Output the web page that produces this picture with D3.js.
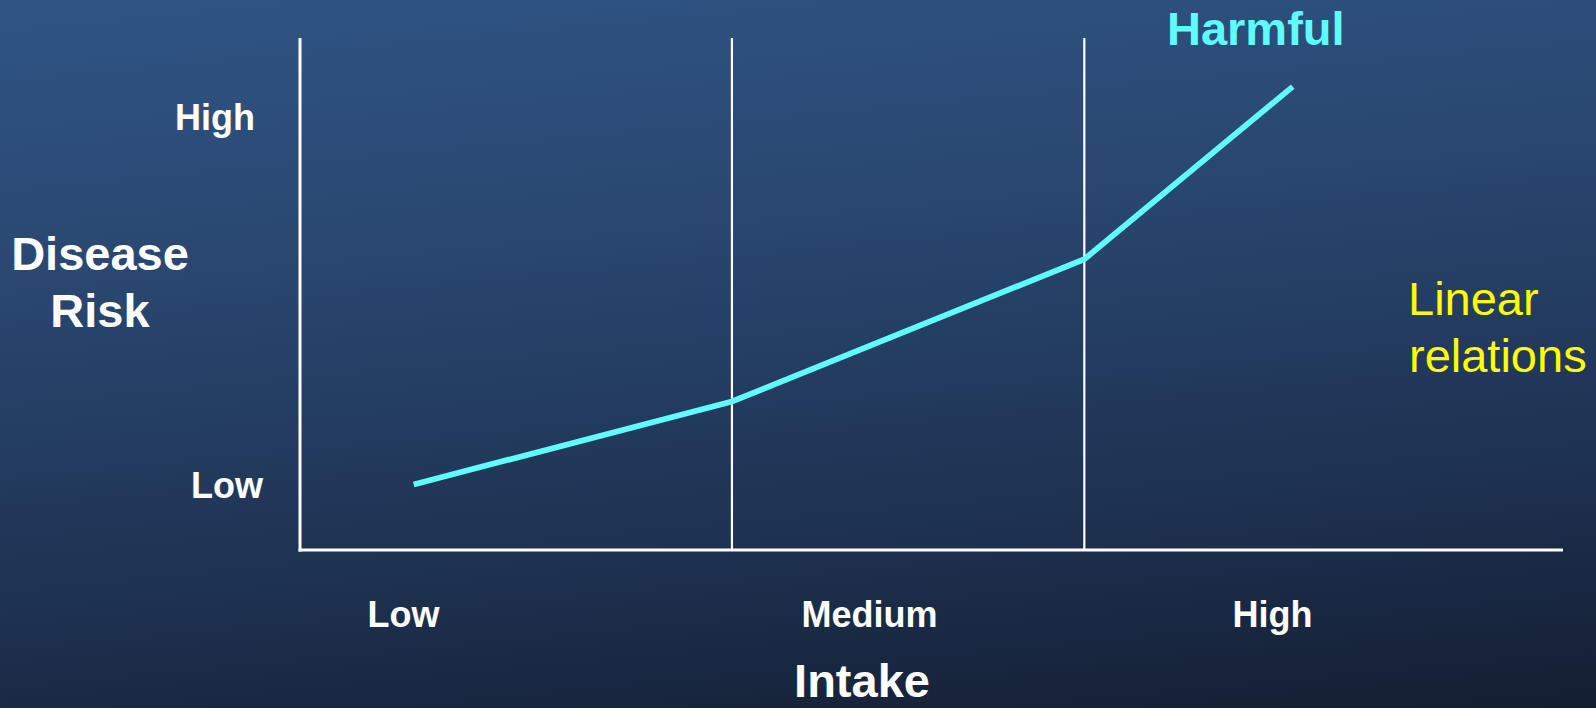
<!DOCTYPE html>
<html>
<head>
<meta charset="utf-8">
<script src="https://cdn.jsdelivr.net/npm/d3@7"></script>
<style>
  html, body { margin: 0; padding: 0; background: #1c2c46; }
  svg { display: block; }
  text { font-family: "Liberation Sans", Arial, sans-serif; }
</style>
</head>
<body>
<svg id="chart" width="1596" height="708"></svg>
<script>
// Intake (0–100) vs disease risk (0–100), conceptual units
const intakeValues = [9.0, 34.2, 62.1, 78.6];
const riskValues   = [12.8, 29.0, 56.8, 90.5];

// Dividers between intake bands
const bandBreaks = [34.2, 62.1];

// Axis category labels and where they sit on each scale
const intakeLabels   = ["Low", "Medium", "High"];
const intakeLabelPos = [8.2, 45.1, 77.0];
const riskLabels     = ["Low", "High"];
const riskLabelPos   = [12.6, 84.6];

const W = 1596, H = 708;
const svg = d3.select("#chart");

// Background: slate-blue gradient, darker toward the bottom right
const defs = svg.append("defs");
const grad = defs.append("linearGradient")
  .attr("id", "bg")
  .attr("gradientUnits", "userSpaceOnUse")
  .attr("x1", 0).attr("y1", 0).attr("x2", 95).attr("y2", 1002);
[[0, "#2f5586"], [0.3, "#29466e"], [0.6, "#1e3252"], [0.85, "#141e31"], [1, "#0f1623"]]
  .forEach(([o, c]) => grad.append("stop").attr("offset", o).attr("stop-color", c));
svg.append("rect").attr("width", W).attr("height", H).attr("fill", "url(#bg)");

const x = d3.scaleLinear().domain([0, 100]).range([300, 1563]);
const y = d3.scaleLinear().domain([0, 100]).range([550, 38]);

// Band divider lines
svg.append("g").selectAll("line").data(bandBreaks).join("line")
  .attr("x1", d => x(d)).attr("x2", d => x(d))
  .attr("y1", y(100)).attr("y2", y(0))
  .attr("stroke", "#ffffff").attr("stroke-width", 2.2);

// Axes (drawn as plain lines, no ticks)
svg.append("line")
  .attr("x1", x(0)).attr("x2", x(0)).attr("y1", y(100)).attr("y2", y(0) + 1.5)
  .attr("stroke", "#ffffff").attr("stroke-width", 3);
svg.append("line")
  .attr("x1", x(0) - 1.5).attr("x2", x(100)).attr("y1", y(0)).attr("y2", y(0))
  .attr("stroke", "#ffffff").attr("stroke-width", 3);

// Risk curve
const pts = intakeValues.map((v, i) => [v, riskValues[i]]);
svg.append("path")
  .datum(pts)
  .attr("d", d3.line().x(d => x(d[0])).y(d => y(d[1])))
  .attr("fill", "none")
  .attr("stroke", "#5ffcfc")
  .attr("stroke-width", 5.8)
  .attr("stroke-linejoin", "miter");

// X category labels
svg.append("g").selectAll("text").data(intakeLabels).join("text")
  .attr("x", (d, i) => x(intakeLabelPos[i]))
  .attr("y", 627)
  .attr("text-anchor", "middle")
  .attr("font-size", 36).attr("font-weight", "bold")
  .attr("fill", "#ffffff")
  .text(d => d);

// Y category labels
const riskLabelX = [191, 175];
svg.append("g").selectAll("text").data(riskLabels).join("text")
  .attr("x", (d, i) => riskLabelX[i])
  .attr("y", (d, i) => y(riskLabelPos[i]))
  .attr("dy", "0.36em")
  .attr("font-size", 36).attr("font-weight", "bold")
  .attr("fill", "#ffffff")
  .text(d => d);

// Axis titles
svg.append("text")
  .attr("x", 862).attr("y", 697)
  .attr("text-anchor", "middle")
  .attr("font-size", 47).attr("font-weight", "bold")
  .attr("fill", "#ffffff")
  .text("Intake");

const yTitle = svg.append("text")
  .attr("text-anchor", "middle")
  .attr("font-size", 47).attr("font-weight", "bold")
  .attr("fill", "#ffffff");
yTitle.append("tspan").attr("x", 100).attr("y", 270).text("Disease");
yTitle.append("tspan").attr("x", 100).attr("y", 327).text("Risk");

// Annotations
svg.append("text")
  .attr("x", 1167).attr("y", 45)
  .attr("font-size", 47).attr("font-weight", "bold")
  .attr("fill", "#5ffcfc")
  .text("Harmful");

const note = svg.append("text")
  .attr("font-size", 47)
  .attr("fill", "#ffff00");
note.append("tspan").attr("x", 1408).attr("y", 315).text("Linear");
note.append("tspan").attr("x", 1409).attr("y", 372).text("relations");
</script>
</body>
</html>
